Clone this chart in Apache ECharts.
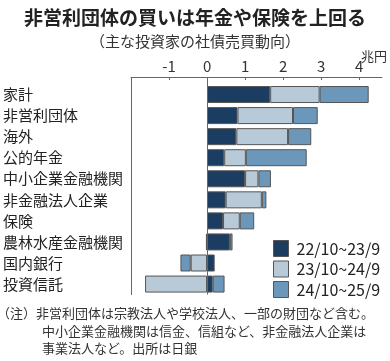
<!DOCTYPE html>
<html>
<head>
<meta charset="utf-8">
<script src="https://cdn.jsdelivr.net/npm/echarts@6/dist/echarts.min.js"></script>
<style>
html,body{margin:0;padding:0;background:#fff;}
#c{width:390px;height:361px;}
</style>
</head>
<body>
<div id="c"></div>
<script>
const categories = ['家計','非営利団体','海外','公的年金','中小企業金融機関','非金融法人企業','保険','農林水産金融機関','国内銀行','投資信託'];
const seriesNames = ['22/10~23/9','23/10~24/9','24/10~25/9'];
const s1 = [1.66, 0.80, 0.77, 0.45, 1.00, 0.49, 0.42, 0.60, 0.20, 0.15];
const s2 = [1.30, 1.46, 1.36, 0.57, 0.35, 0.95, 0.44, -0.03, -0.43, -1.63];
const s3 = [1.29, 0.65, 0.61, 1.60, 0.33, 0.12, 0.38, 0.07, -0.27, 0.31];
const xTicks = [-1, 0, 1, 2, 3, 4];

const colors = ['#1b3d61', '#b8cad8', '#6b98ba'];
const FONT = '"Noto Sans CJK JP", "Noto Sans", sans-serif';

const chart = echarts.init(document.getElementById('c'));
const border = {borderColor: '#555', borderWidth: 1};

const series = [s1, s2, s3].map((d, i) => ({
  name: seriesNames[i],
  type: 'bar',
  stack: 'all',
  data: d,
  barWidth: 17,
  itemStyle: Object.assign({color: colors[i]}, border),
  emphasis: {disabled: true},
  animation: false
}));
series[0].markLine = {
  silent: true,
  symbol: 'none',
  label: {show: false},
  lineStyle: {color: '#666', width: 1, type: 'solid'},
  data: [{xAxis: 0}],
  animation: false
};

const GRID_TOP = 84, AXIS_OFFSET = 7;
const noteStyle = {fontSize: 13, fontWeight: 'normal', color: '#333', fontFamily: FONT};

chart.setOption({
  backgroundColor: '#fff',
  textStyle: {fontFamily: FONT},
  title: [
    {text: '非営利団体の買いは年金や保険を上回る', left: 'center', top: 3,
     textStyle: {fontSize: 19, fontWeight: 'bold', color: '#222', fontFamily: FONT}},
    {text: '（主な投資家の社債売買動向）', left: 'center', top: 29,
     textStyle: {fontSize: 15, fontWeight: 'normal', color: '#333', fontFamily: FONT}},
    {text: '兆円', left: 356, top: 45,
     textStyle: {fontSize: 13, fontWeight: 'normal', color: '#333', fontFamily: FONT}},
    {text: '（注）非営利団体は宗教法人や学校法人、一部の財団など含む。', left: -3, top: 307, padding: 0,
     textStyle: noteStyle},
    {text: '中小企業金融機関は信金、信組など、非金融法人企業は', left: 42, top: 325, padding: 0,
     textStyle: noteStyle},
    {text: '事業法人など。出所は日銀', left: 42, top: 342, padding: 0,
     textStyle: noteStyle}
  ],
  legend: {
    orient: 'vertical',
    left: 273, top: 240,
    padding: 0,
    itemWidth: 15, itemHeight: 16, itemGap: 3.5,
    icon: 'rect',
    itemStyle: {borderColor: '#555', borderWidth: 1},
    textStyle: {fontSize: 16, color: '#222', padding: [0, 0, 0, 3], fontFamily: FONT},
    selectedMode: false,
    data: seriesNames
  },
  grid: {left: 131, right: 8, top: GRID_TOP, height: 210.6, outerBoundsMode: 'none'},
  xAxis: {
    type: 'value',
    position: 'top',
    offset: AXIS_OFFSET,
    min: -2, max: 4.6, interval: 1,
    axisLine: {show: true, lineStyle: {color: '#666', width: 1}},
    axisTick: {show: true, inside: true, length: 3, lineStyle: {color: '#666'}},
    splitLine: {show: false},
    axisLabel: {
      fontSize: 15, color: '#333', margin: 3, showMaxLabel: false,
      formatter: v => (xTicks.indexOf(v) >= 0 ? String(v) : '')
    }
  },
  yAxis: {
    type: 'category',
    inverse: true,
    data: categories,
    axisLine: {show: true, onZero: false, lineStyle: {color: '#666', width: 1}},
    axisTick: {show: false},
    axisLabel: {align: 'left', margin: 128, fontSize: 15, color: '#222'}
  },
  series: series
});

// extend the left axis line and the zero line up to the offset top axis line
const xMin = chart.getModel().getComponent('xAxis', 0).axis.scale.getExtent()[0];
const xLeft = chart.convertToPixel({xAxisIndex: 0}, xMin);
const xZero = chart.convertToPixel({xAxisIndex: 0}, 0);
chart.setOption({
  graphic: [xLeft, xZero].map(x => ({
    type: 'line', silent: true,
    shape: {x1: Math.round(x) + 0.5, y1: GRID_TOP - AXIS_OFFSET, x2: Math.round(x) + 0.5, y2: GRID_TOP},
    style: {stroke: '#666', lineWidth: 1}
  }))
});
</script>
</body>
</html>
